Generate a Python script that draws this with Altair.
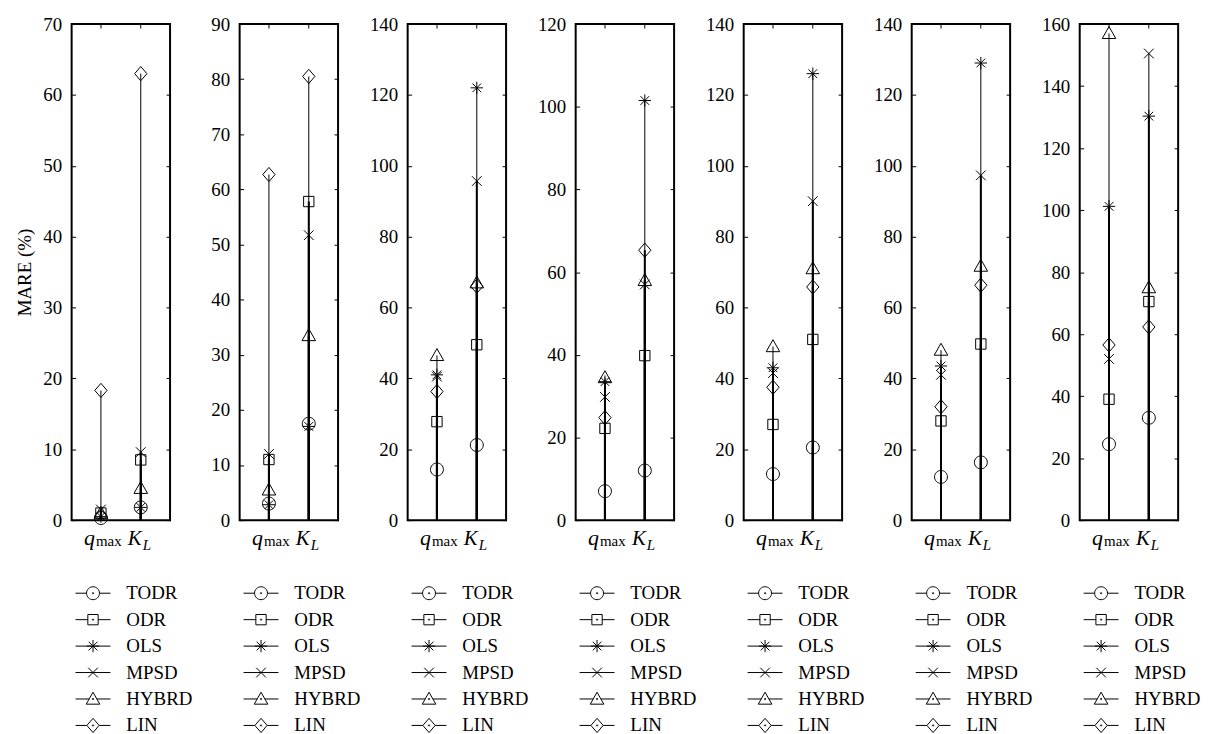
import altair as alt
import pandas as pd

series = ["TODR", "ODR", "OLS", "MPSD", "HYBRD", "LIN"]
params = ["qmax", "KL"]

# MARE (%) per panel, order follows `series`
qmax_vals = [
    [0.3, 1.0, 0.5, 1.5, 1.0, 18.3],
    [3.0, 11.0, 2.8, 12.0, 5.5, 62.7],
    [14.3, 27.8, 41.0, 40.5, 46.5, 36.3],
    [7.0, 22.2, 33.5, 29.8, 34.5, 24.8],
    [13.0, 27.0, 43.0, 41.5, 49.0, 37.5],
    [12.2, 28.0, 43.5, 41.0, 48.0, 32.0],
    [24.5, 39.0, 101.2, 52.0, 157.0, 56.5],
]
kl_vals = [
    [1.8, 8.5, 1.8, 9.6, 4.5, 63.0],
    [17.5, 57.8, 17.0, 51.7, 33.5, 80.5],
    [21.2, 49.5, 122.0, 95.7, 67.0, 66.0],
    [12.0, 39.8, 101.5, 57.0, 58.0, 65.3],
    [20.5, 51.0, 126.0, 90.0, 71.0, 65.8],
    [16.3, 49.7, 129.0, 97.3, 71.7, 66.3],
    [33.0, 70.5, 130.3, 150.5, 75.0, 62.3],
]
y_max = [70, 90, 140, 120, 140, 140, 160]
y_step = [10, 10, 20, 20, 20, 20, 20]

FONT = "Liberation Serif"
W, H = 99, 499

circle = "M1,0A1,1,0,1,1,-1,0A1,1,0,1,1,1,0Z"
square = "M-0.8,-0.8H0.8V0.8H-0.8Z"
aster = "M-0.95,0H0.95M0,-0.95V0.95M-0.67,-0.67L0.67,0.67M-0.67,0.67L0.67,-0.67"
xmark = "M-0.75,-0.75L0.75,0.75M-0.75,0.75L0.75,-0.75"
tri = "M0,-1.05L1.05,0.8L-1.05,0.8Z"
diam = "M0,-1.1L0.95,0L0,1.1L-0.95,0Z"
dot = "M0.1,0A0.1,0.1,0,1,1,-0.1,0A0.1,0.1,0,1,1,0.1,0Z"
marker_paths = [circle, square, aster, xmark, tri, diam]
legend_paths = [
    "M-2.7,0H-1M1,0H2.7" + circle + dot,
    "M-2.7,0H-0.8M0.8,0H2.7" + square + dot,
    "M-2.7,0H2.7" + aster,
    "M-2.7,0H2.7" + xmark,
    "M-2.7,0H-0.6M0.6,0H2.7" + tri + dot,
    "M-2.7,0H-0.95M0.95,0H2.7" + diam + dot,
]

lbl_df = pd.DataFrame({"param": params, "main": ["q", "K"], "sub": ["max", "L"]})


def panel(i):
    rows = []
    for s, qv, kv in zip(series, qmax_vals[i], kl_vals[i]):
        rows.append({"param": "qmax", "series": s, "value": qv, "base": 0})
        rows.append({"param": "KL", "series": s, "value": kv, "base": 0})
    df = pd.DataFrame(rows)
    ticks = list(range(0, y_max[i] + 1, y_step[i]))
    yscale = alt.Scale(domain=[0, y_max[i]], nice=False, zero=True)
    xscale = alt.Scale(domain=params, padding=0.47)
    xaxis = alt.Axis(orient="top", offset=-4, tickSize=4, labels=False, domain=False,
                     title=None, tickColor="black", grid=False)
    left_axis = alt.Axis(values=ticks, orient="left", offset=-4, tickSize=4, labelPadding=10,
                         domain=False, grid=False, labelFont=FONT, labelFontSize=19,
                         labelColor="black", tickColor="black",
                         title="MARE (%)" if i == 0 else None,
                         titleFont=FONT, titleFontSize=19, titleFontWeight="normal",
                         titleColor="black", titlePadding=8)
    right_axis = alt.Axis(values=ticks, orient="right", offset=-4, tickSize=4, labels=False,
                          domain=False, grid=False, title=None, tickColor="black")

    stems = alt.Chart(df).transform_window(
        rank="row_number()", groupby=["param"], sort=[alt.SortField("value", order="descending")]
    ).mark_rule(color="black").encode(
        x=alt.X("param:N", scale=xscale, axis=xaxis, sort=params),
        y=alt.Y("value:Q", scale=yscale, axis=left_axis),
        y2="base:Q",
        strokeWidth=alt.condition("datum.rank == 1", alt.value(1), alt.value(2)),
    )
    pts = alt.Chart(df).mark_point(filled=False, color="black", size=169, strokeWidth=1, opacity=1).encode(
        x=alt.X("param:N", scale=xscale, axis=xaxis, sort=params),
        y=alt.Y("value:Q", scale=yscale, axis=right_axis),
        shape=alt.Shape("series:N", scale=alt.Scale(domain=series, range=marker_paths), legend=None),
    )
    leg = alt.Chart(df).mark_point(filled=False, color="black", size=169, strokeWidth=1, opacity=1).encode(
        shape=alt.Shape("series:N", scale=alt.Scale(domain=series, range=legend_paths),
                        legend=alt.Legend(orient="none", legendX=12, legendY=563, title=None,
                                          symbolSize=169, symbolStrokeWidth=1,
                                          symbolStrokeColor="black", symbolFillColor="transparent",
                                          labelFont=FONT, labelFontSize=19, labelColor="black",
                                          labelOffset=24, rowPadding=6.6, padding=0)),
    ).transform_filter("false")

    def txt(param, field, size, italic, align, dx, ypx):
        return alt.Chart(lbl_df).transform_filter(alt.datum.param == param).mark_text(
            font=FONT, fontSize=size, fontStyle="italic" if italic else "normal",
            align=align, baseline="alphabetic", dx=dx, color="black",
        ).encode(
            x=alt.X("param:N", scale=xscale, axis=xaxis, sort=params),
            y=alt.value(ypx),
            text=f"{field}:N",
        )

    labels = [
        txt("qmax", "main", 22, True, "right", -6, 524),
        txt("qmax", "sub", 15, False, "left", -5, 525),
        txt("KL", "main", 21, True, "right", 1, 524),
        txt("KL", "sub", 15, True, "left", 2, 529),
    ]
    return alt.layer(stems, pts, leg, *labels).resolve_scale(
        y="independent", shape="independent"
    ).properties(width=W, height=H)


chart = alt.hconcat(*[panel(i) for i in range(7)], spacing=70, bounds="flush").resolve_scale(
    y="independent", shape="independent"
).resolve_legend(shape="independent").configure_view(
    stroke="black", strokeWidth=2
).properties(padding={"left": 7, "top": 4, "right": 0, "bottom": 0}, background="white")

chart.save("out.html", embed_options={"renderer": "svg", "actions": False})
